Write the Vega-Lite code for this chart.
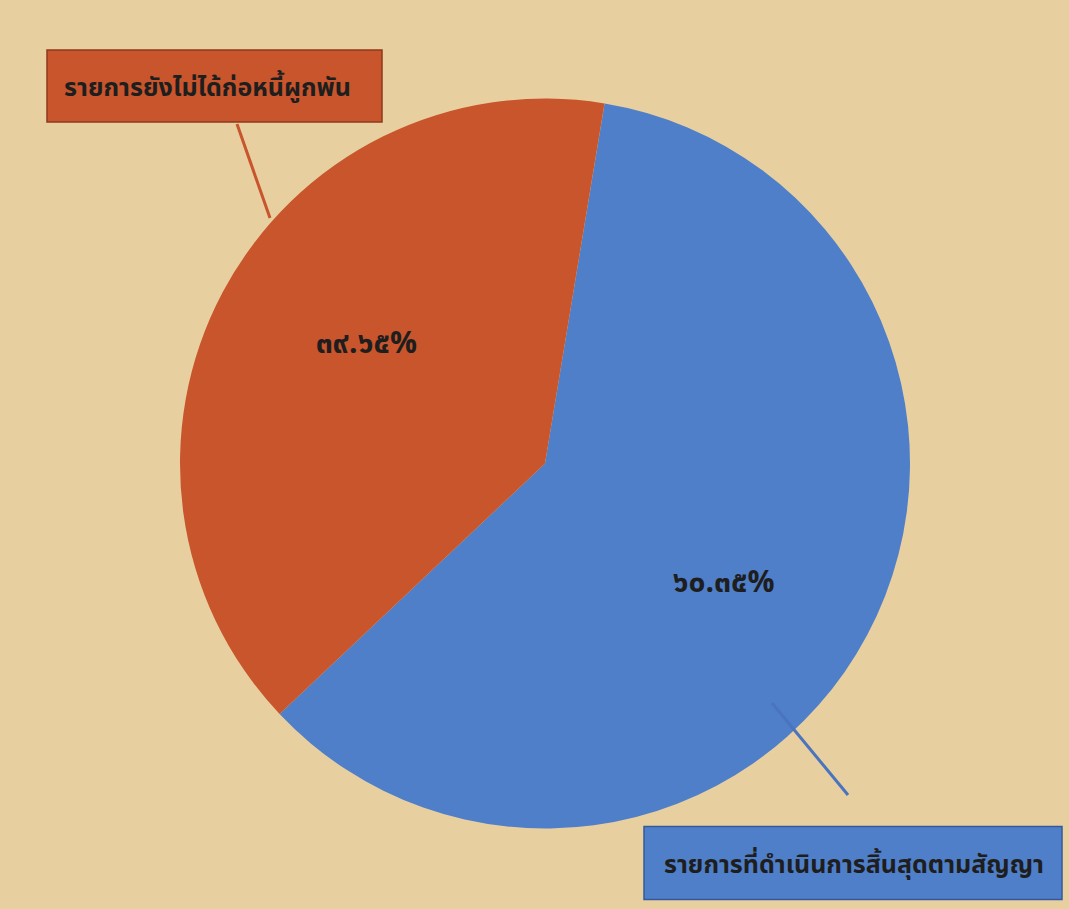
{
  "$schema": "https://vega.github.io/schema/vega-lite/v6.json",
  "width": 1069,
  "height": 909,
  "autosize": {"type": "fit", "contains": "padding"},
  "padding": {"left": 21, "top": 18, "right": 0, "bottom": 0},
  "background": "#e8cfa0",
  "config": {"view": {"stroke": null}, "font": "Noto Sans Thai, Noto Sans, sans-serif"},
  "datasets": {
    "slices": [
      {"category": "รายการที่ดำเนินการสิ้นสุดตามสัญญา", "value": 60.35, "label": "๖๐.๓๕%"},
      {"category": "รายการยังไม่ได้ก่อหนี้ผูกพัน", "value": 39.65, "label": "๓๙.๖๕%"}
    ],
    "leaders": [
      {"category": "รายการที่ดำเนินการสิ้นสุดตามสัญญา", "end": "inner"},
      {"category": "รายการที่ดำเนินการสิ้นสุดตามสัญญา", "end": "outer"},
      {"category": "รายการยังไม่ได้ก่อหนี้ผูกพัน", "end": "inner"},
      {"category": "รายการยังไม่ได้ก่อหนี้ผูกพัน", "end": "outer"}
    ]
  },
  "data": {"name": "slices"},
  "resolve": {"scale": {"x": "independent", "y": "independent", "theta": "independent"}},
  "layer": [
    {
      "mark": {"type": "arc", "outerRadius": 365},
      "encoding": {
        "theta": {"field": "value", "type": "quantitative", "stack": true, "scale": {"range": [0.164, 6.447]}},
        "color": {"field": "category", "type": "nominal", "legend": null,
          "scale": {"domain": ["รายการที่ดำเนินการสิ้นสุดตามสัญญา", "รายการยังไม่ได้ก่อหนี้ผูกพัน"], "range": ["#4f7fc9", "#c8552c"]}},
        "order": {"field": "value", "sort": "descending"}
      }
    },
    {
      "mark": {"type": "text", "radius": 215, "fontSize": 30, "fontWeight": "bold", "color": "#1e1e1e", "align": "center", "baseline": "middle"},
      "encoding": {
        "theta": {"field": "value", "type": "quantitative", "stack": true, "scale": {"range": [0.265, 6.548]}},
        "order": {"field": "value", "sort": "descending"},
        "text": {"field": "label"}
      }
    },
    {
      "data": {"name": "leaders"},
      "transform": [{"filter": {"field": "category", "equal": "รายการยังไม่ได้ก่อหนี้ผูกพัน"}}],
      "mark": {"type": "line", "color": "#c8552c", "strokeWidth": 3},
      "encoding": {
        "x": {"field": "end", "type": "nominal", "axis": null, "scale": {"type": "point", "domain": ["inner", "outer"], "range": [249, 216], "padding": 0}},
        "y": {"field": "end", "type": "nominal", "axis": null, "scale": {"type": "point", "domain": ["inner", "outer"], "range": [200, 106], "padding": 0}}
      }
    },
    {
      "data": {"name": "leaders"},
      "transform": [{"filter": {"field": "category", "equal": "รายการที่ดำเนินการสิ้นสุดตามสัญญา"}}],
      "mark": {"type": "line", "color": "#4a74bd", "strokeWidth": 3},
      "encoding": {
        "x": {"field": "end", "type": "nominal", "axis": null, "scale": {"type": "point", "domain": ["inner", "outer"], "range": [751, 827], "padding": 0}},
        "y": {"field": "end", "type": "nominal", "axis": null, "scale": {"type": "point", "domain": ["inner", "outer"], "range": [685, 777], "padding": 0}}
      }
    },
    {
      "transform": [{"filter": {"field": "category", "equal": "รายการยังไม่ได้ก่อหนี้ผูกพัน"}}],
      "mark": {"type": "rect", "width": 335, "height": 72, "fill": "#c8552c", "stroke": "#8e3a1c", "strokeWidth": 1.5},
      "encoding": {
        "x": {"field": "category", "type": "nominal", "axis": null, "scale": {"type": "point", "domain": ["รายการยังไม่ได้ก่อหนี้ผูกพัน", "รายการที่ดำเนินการสิ้นสุดตามสัญญา"], "range": [193.5, 832], "padding": 0}},
        "y": {"field": "category", "type": "nominal", "axis": null, "scale": {"type": "point", "domain": ["รายการยังไม่ได้ก่อหนี้ผูกพัน", "รายการที่ดำเนินการสิ้นสุดตามสัญญา"], "range": [68, 845], "padding": 0}}
      }
    },
    {
      "transform": [{"filter": {"field": "category", "equal": "รายการที่ดำเนินการสิ้นสุดตามสัญญา"}}],
      "mark": {"type": "rect", "width": 418, "height": 73, "fill": "#4f7fc9", "stroke": "#34599a", "strokeWidth": 1.5},
      "encoding": {
        "x": {"field": "category", "type": "nominal", "axis": null, "scale": {"type": "point", "domain": ["รายการยังไม่ได้ก่อหนี้ผูกพัน", "รายการที่ดำเนินการสิ้นสุดตามสัญญา"], "range": [193.5, 832], "padding": 0}},
        "y": {"field": "category", "type": "nominal", "axis": null, "scale": {"type": "point", "domain": ["รายการยังไม่ได้ก่อหนี้ผูกพัน", "รายการที่ดำเนินการสิ้นสุดตามสัญญา"], "range": [68, 845], "padding": 0}}
      }
    },
    {
      "mark": {"type": "text", "fontSize": 25, "fontWeight": "bold", "color": "#1e1e1e", "align": "center", "baseline": "middle"},
      "encoding": {
        "x": {"field": "category", "type": "nominal", "axis": null, "scale": {"type": "point", "domain": ["รายการยังไม่ได้ก่อหนี้ผูกพัน", "รายการที่ดำเนินการสิ้นสุดตามสัญญา"], "range": [186.5, 833], "padding": 0}},
        "y": {"field": "category", "type": "nominal", "axis": null, "scale": {"type": "point", "domain": ["รายการยังไม่ได้ก่อหนี้ผูกพัน", "รายการที่ดำเนินการสิ้นสุดตามสัญญา"], "range": [70, 847], "padding": 0}},
        "text": {"field": "category"}
      }
    }
  ]
}
